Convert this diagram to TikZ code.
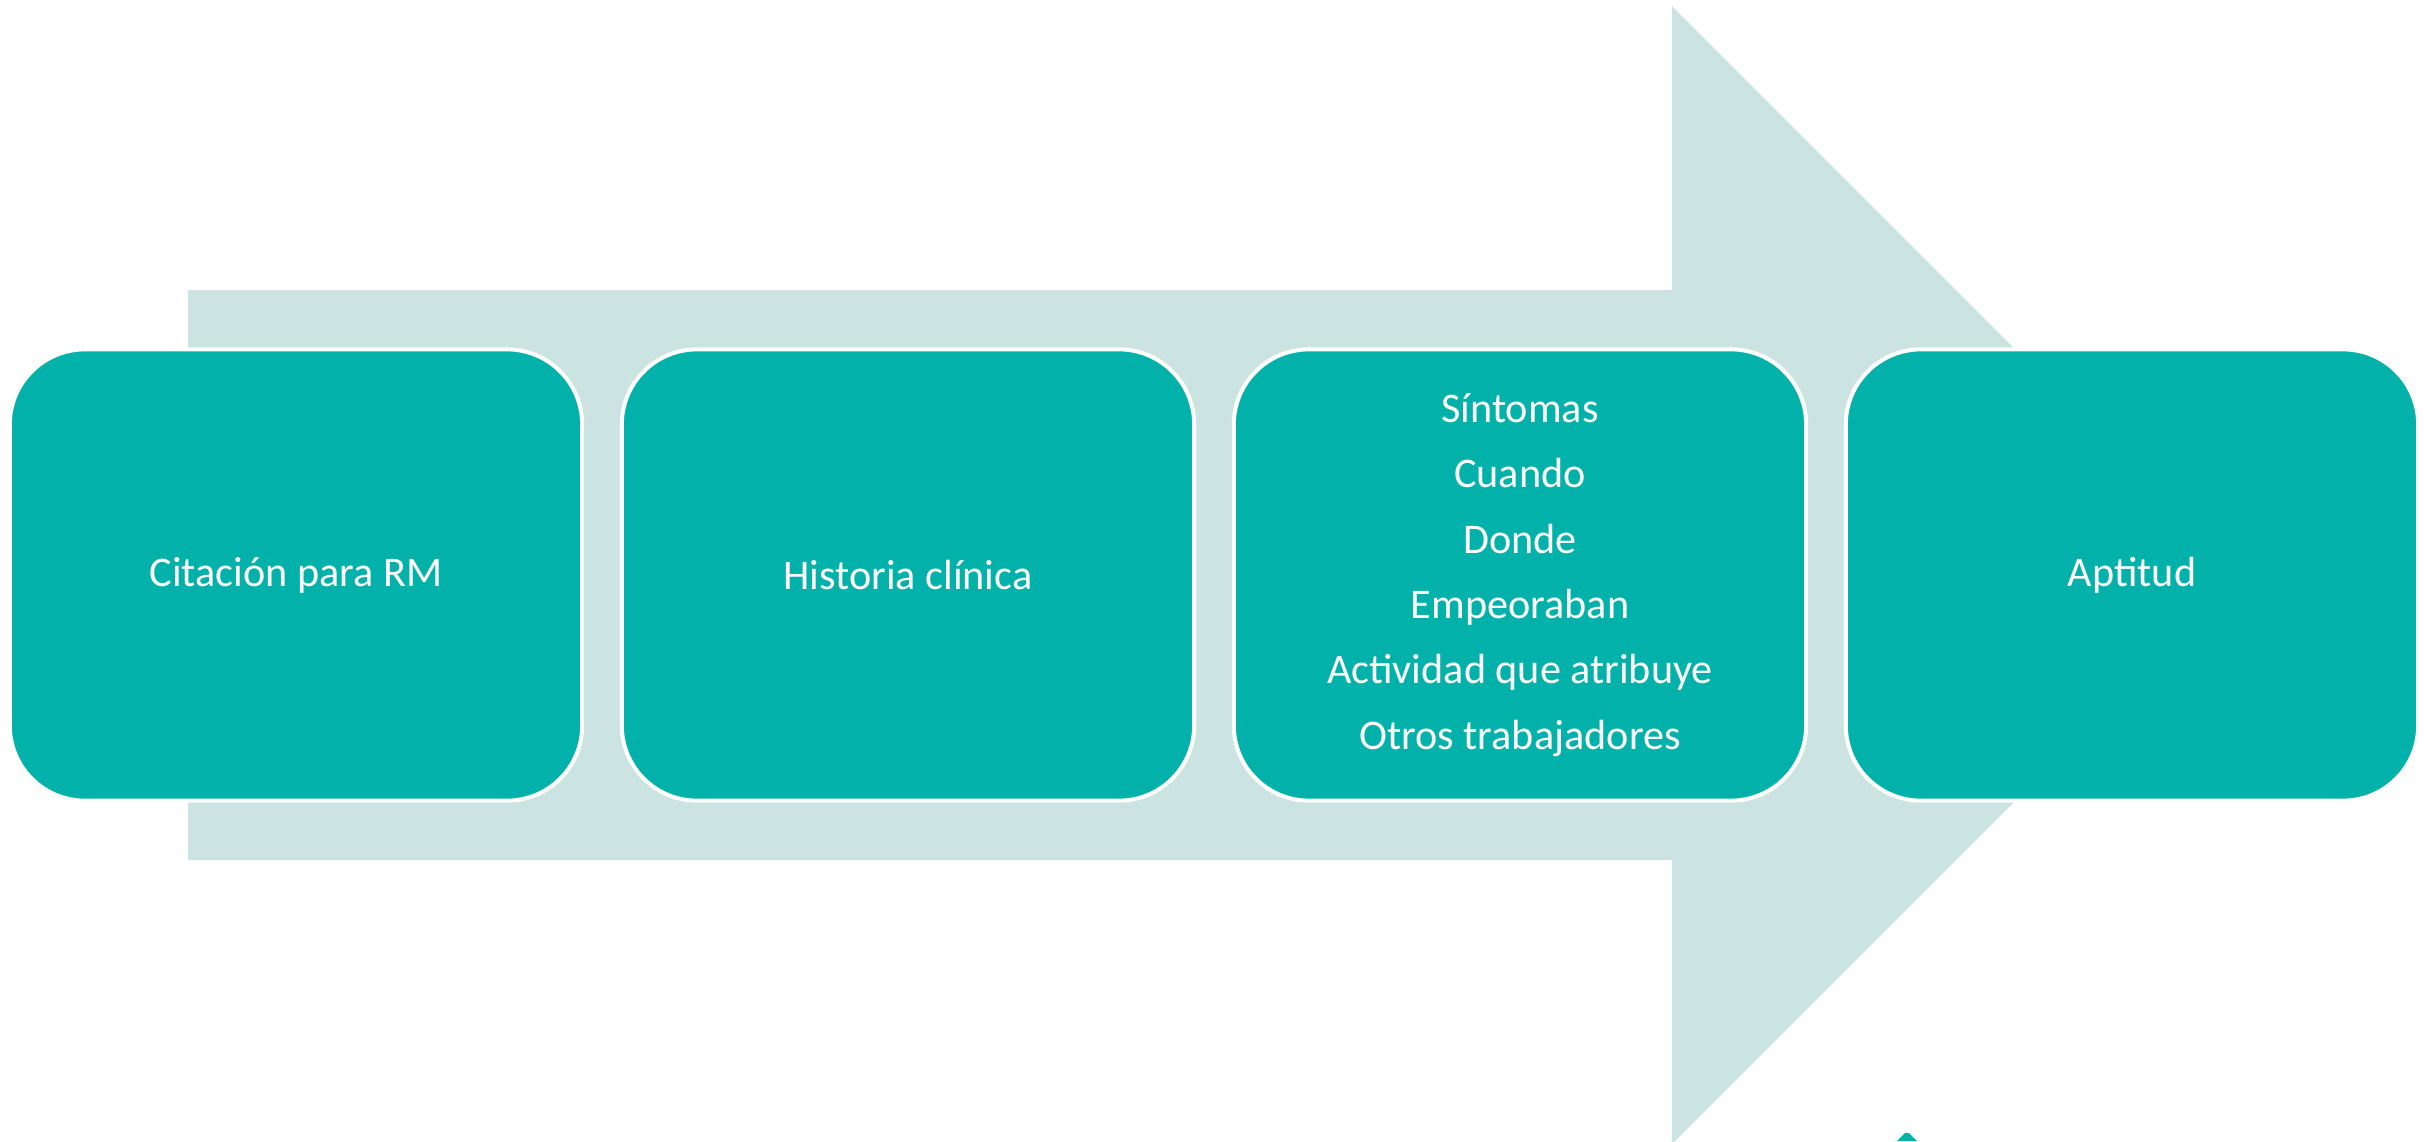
\documentclass[tikz,border=0pt]{standalone}
\usepackage{fontspec}
\setmainfont{Carlito}
\definecolor{stepteal}{RGB}{2,178,170}
\definecolor{arrowmint}{RGB}{204,228,225}
\begin{document}
\begin{tikzpicture}[x=0.01cm,y=-0.01cm,
	stepbox/.style={rectangle,rounded corners=0.75cm,draw=white,line width=0.04cm,fill=stepteal,text=white,minimum width=5.72cm,minimum height=4.51cm,inner sep=0pt,align=center,font=\fontsize{12}{18.6}\selectfont}
	]
	\def\dist{612}
	\clip (0,0) rectangle (2432,1141);
	\fill[white] (0,0) rectangle (2432,1141);
	% big arrow behind the boxes
	\fill[arrowmint] (188,290) -- (1672,290) -- (1672,6) -- (2241,575) -- (1672,1144) -- (1672,860) -- (188,860) -- cycle;
	
	\node[stepbox] (cita) at (296,575) {Citación para RM};
	\node[stepbox] (hist) at (296+\dist,575) {Historia clínica};
	\node[stepbox] (sint) at (296+2*\dist,575) {Síntomas\\Cuando\\Donde\\Empeoraban\\Actividad que atribuye\\Otros trabajadores};
	\node[stepbox] (apti) at (296+3*\dist,575) {Aptitud};
	
	\fill[stepteal] (1897,1141) -- (1905,1133) -- (1909,1133) -- (1917,1141) -- cycle; %cut off below
\end{tikzpicture}
\end{document}
